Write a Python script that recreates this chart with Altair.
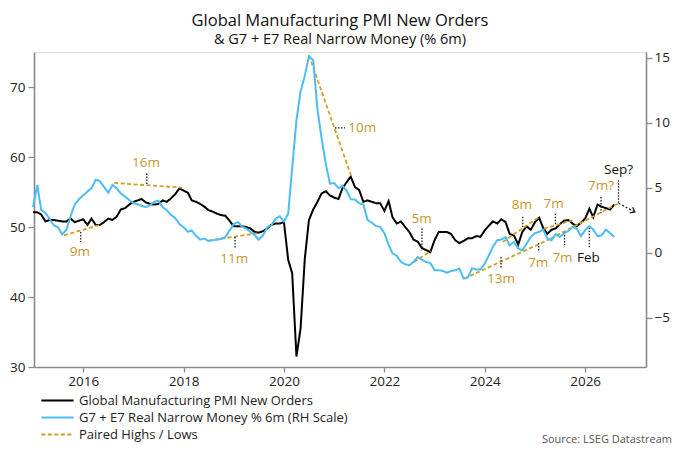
import altair as alt
import pandas as pd

TITLE = "Global Manufacturing PMI New Orders"
SUBTITLE = "& G7 + E7 Real Narrow Money (% 6m)"
SOURCE = "Source: LSEG Datastream"
SERIES = [
    "Global Manufacturing PMI New Orders",
    "G7 + E7 Real Narrow Money % 6m (RH Scale)",
    "Paired Highs / Lows",
]
FIRST_MONTH = "2015-01-01"

# Monthly values, Jan 2015 onwards
pmi_new_orders = [
    52.1, 52.1, 51.8, 50.8, 51.0, 51.0, 50.9, 50.8, 50.8, 51.2,
    50.7, 50.9, 51.1, 50.3, 51.2, 50.3, 50.3, 50.7, 51.2, 51.0,
    51.5, 52.5, 52.7, 53.2, 53.6, 53.8, 54.0, 53.5, 53.3, 53.2,
    53.3, 53.8, 53.6, 54.1, 54.7, 55.5, 55.2, 54.9, 53.8, 53.6,
    53.3, 52.9, 52.4, 52.2, 51.9, 51.7, 51.6, 50.9, 50.1, 50.1,
    50.1, 50.0, 49.8, 49.3, 49.2, 49.4, 49.8, 50.3, 50.5, 50.5,
    50.7, 45.3, 43.4, 31.5, 35.5, 45.5, 51.0, 52.5, 53.6, 54.8,
    55.1, 54.5, 54.2, 54.0, 55.5, 56.4, 57.2, 55.7, 55.3, 53.6,
    53.8, 53.6, 53.4, 53.4, 52.3, 53.7, 51.4, 50.5, 50.8, 50.0,
    49.3, 48.2, 47.9, 47.0, 46.7, 46.4, 48.1, 49.3, 49.3, 49.3,
    49.0, 48.1, 47.7, 48.0, 48.4, 48.4, 48.7, 48.6, 49.5, 50.2,
    50.8, 50.5, 51.1, 50.7, 49.0, 48.8, 47.5, 49.3, 50.1, 49.6,
    50.7, 51.3, 49.9, 49.0, 49.6, 49.8, 50.4, 50.9, 51.0, 50.5,
    50.1, 50.6, 51.2, 52.6, 51.4, 53.2, 52.9, 52.7, 52.5, 53.2,
]
real_money_6m = [
    3.5, 5.2, 3.3, 3.05, 2.6, 2.1, 1.95, 1.4, 1.75, 2.8,
    3.7, 4.1, 4.4, 4.7, 4.95, 5.6, 5.5, 5.05, 4.6, 5.2,
    4.95, 4.55, 4.3, 4.05, 3.8, 3.72, 3.6, 3.5, 3.65, 3.9,
    4.0, 3.5, 3.25, 2.9, 2.65, 2.2, 1.95, 1.6, 1.7, 1.3,
    1.0, 1.08, 0.9, 0.95, 1.0, 1.05, 1.2, 1.7, 2.2, 2.35,
    2.0, 1.85, 1.6, 1.35, 1.0, 1.3, 1.95, 2.1, 2.6, 2.8,
    2.4, 3.0, 6.5, 10.2, 12.4, 13.6, 15.1, 14.8, 11.0, 8.8,
    6.8, 5.3, 5.35, 4.95, 5.15, 4.75, 4.1, 4.08, 3.8, 3.7,
    2.5, 2.3, 2.05, 1.97, 1.5, 0.6, -0.05, -0.25, -0.7, -0.9,
    -0.97, -0.72, -0.35, -0.54, -0.72, -0.8, -1.35, -1.36, -1.4, -1.55,
    -1.42, -1.36, -1.23, -2.0, -1.92, -1.2, -1.3, -1.3, -0.85, -0.2,
    0.45, 0.95, 1.0, 1.2, 0.56, 0.82, 0.31, 0.18, 0.69, 1.2,
    1.5, 1.6, 1.77, 1.08, 0.95, 1.41, 1.21, 1.46, 1.67, 1.97,
    1.85, 1.26, 1.72, 2.03, 1.77, 1.26, 1.33, 1.77, 1.51, 1.21,
]

LEFT_TICKS = [30, 40, 50, 60, 70]
RIGHT_TICKS = [-5, 0, 5, 10, 15]
YEAR_TICKS = [2016, 2018, 2020, 2022, 2024, 2026]
LEFT_DOMAIN = [30, 75]
RIGHT_DOMAIN = [-8.8, 15.43]
X_DOMAIN = ["2015-01-08", "2027-03-20"]

# Paired highs / lows (months after Jan 2015, values on the left scale)
pair_start_month = [7.4, 19.4, 41.9, 66.0, 91.1, 103.1, 123.8, 112.3, 122.2]
pair_start_value = [48.81, 56.29, 48.05, 74.5, 45.0, 42.63, 48.34, 47.86, 49.77]
pair_end_month = [16.2, 35.6, 53.6, 76.1, 95.1, 123.8, 140.0, 121.0, 129.0]
pair_end_value = [50.34, 55.63, 49.1, 57.24, 46.57, 48.34, 53.39, 51.43, 50.96]

# dotted lag markers
marker_month = [11.4, 27.2, 48.3, 93.0, 111.9, 117.1, 124.9, 120.9, 127.1, 133.0, 135.8, 140.0]
marker_top = [49.29, 57.63, 48.57, 49.77, 45.71, 51.46, 51.91, 47.7, 49.3, 49.9, 54.3, 56.67]
marker_bottom = [47.86, 55.96, 46.91, 46.67, 44.06, 49.83, 50.24, 46.4, 47.39, 46.9, 52.0, 53.39]

lag_labels = ["9m", "16m", "11m", "10m", "5m", "13m", "8m", "7m", "7m", "7m", "7m?"]
lag_label_month = [11.2, 27.0, 48.1, 78.7, 92.9, 111.9, 116.9, 124.5, 120.8, 126.6, 135.8]
lag_label_value = [46.43, 59.14, 45.39, 64.17, 51.1, 42.53, 53.1, 53.34, 44.86, 45.6, 55.86]

date_labels = ["Feb", "Sep?"]
date_label_month = [132.8, 140.0]
date_label_value = [45.6, 58.1]

lead_10m_month = [72.2, 74.6]
lead_10m_value = 64.17
arrow_month = [140.0, 143.9]
arrow_value = [53.39, 52.14]

BLACK = "#000000"
BLUE = "#4BBDF4"
GOLD = "#D39D22"
GOLD_TEXT = "#C8962C"
FONT = "Open Sans"


def to_date(m):
    return pd.Timestamp(FIRST_MONTH) + pd.to_timedelta(m * 30.436875, unit="D")


dates = pd.date_range(FIRST_MONTH, periods=len(pmi_new_orders), freq="MS")
df_pmi = pd.DataFrame({"date": dates, "value": pmi_new_orders, "series": SERIES[0]})
df_money = pd.DataFrame({"date": dates, "value": real_money_6m, "series": SERIES[1]})

pair_rows = []
for i in range(len(pair_start_month)):
    pair_rows.append({"seg": i, "date": to_date(pair_start_month[i]), "value": pair_start_value[i], "series": SERIES[2]})
    pair_rows.append({"seg": i, "date": to_date(pair_end_month[i]), "value": pair_end_value[i], "series": SERIES[2]})
df_pairs = pd.DataFrame(pair_rows)

df_markers = pd.DataFrame({
    "date": [to_date(m) for m in marker_month],
    "value": marker_top,
    "value2": marker_bottom,
})
df_lead = pd.DataFrame({
    "date": [to_date(lead_10m_month[0])],
    "date2": [to_date(lead_10m_month[1])],
    "value": [lead_10m_value],
})
df_lag_text = pd.DataFrame({
    "date": [to_date(m) for m in lag_label_month],
    "value": lag_label_value,
    "label": lag_labels,
})
df_date_text = pd.DataFrame({
    "date": [to_date(m) for m in date_label_month],
    "value": date_label_value,
    "label": date_labels,
})
df_arrow = pd.DataFrame({"date": [to_date(m) for m in arrow_month], "value": arrow_value})
df_arrow_head = df_arrow.iloc[[1]]
df_source = pd.DataFrame({"label": [SOURCE]})

axis_common = dict(
    grid=False, title=None, domainColor="#8a8a8a", domainWidth=1.6, tickColor="#8a8a8a",
    tickWidth=1.3, labelFont=FONT, labelFontSize=13.5, labelColor="#222222",
)
x_enc = alt.X(
    "date:T",
    scale=alt.Scale(domain=X_DOMAIN, nice=False),
    axis=alt.Axis(values=[alt.DateTime(year=y, month=1, date=1) for y in YEAR_TICKS],
                  format="%Y", tickSize=5, labelPadding=2, **axis_common),
)
y_left = alt.Y(
    "value:Q",
    scale=alt.Scale(domain=LEFT_DOMAIN, nice=False, zero=False),
    axis=alt.Axis(values=LEFT_TICKS, orient="left", tickSize=6, labelPadding=3, **axis_common),
)
y_right = alt.Y(
    "value:Q",
    scale=alt.Scale(domain=RIGHT_DOMAIN, nice=False, zero=False),
    axis=alt.Axis(values=RIGHT_TICKS, orient="right", tickSize=6, labelPadding=2, **axis_common),
)

legend = alt.Legend(
    title=None, orient="none", legendX=15, legendY=340, direction="vertical",
    symbolType="M-2.15,0H2.15", symbolSize=225, symbolStrokeWidth=2,
    labelFont=FONT, labelFontSize=13, labelColor="#222222", rowPadding=1,
    labelOffset=13, padding=0, labelLimit=500,
)
color_enc = alt.Color("series:N", scale=alt.Scale(domain=SERIES, range=[BLACK, BLUE, GOLD]), legend=legend)
dash_enc = alt.StrokeDash("series:N", scale=alt.Scale(domain=SERIES, range=[[1, 0], [1, 0], [4, 2.5]]), legend=legend)

pmi_line = alt.Chart(df_pmi).mark_line(strokeWidth=2).encode(
    x=x_enc, y=y_left, color=color_enc, strokeDash=dash_enc)

pairs = alt.Chart(df_pairs).mark_line(strokeWidth=1.8).encode(
    x=x_enc, y=y_left, detail="seg:N", color=color_enc, strokeDash=dash_enc)

markers = alt.Chart(df_markers).mark_rule(color="#222222", strokeWidth=1.3, strokeDash=[1.5, 1.5]).encode(
    x=x_enc, y=y_left, y2="value2:Q")

lead = alt.Chart(df_lead).mark_rule(color="#222222", strokeWidth=1.3, strokeDash=[1.5, 1.5]).encode(
    x=x_enc, x2="date2:T", y=y_left)

lag_text = alt.Chart(df_lag_text).mark_text(
    font=FONT, fontSize=13.5, color=GOLD_TEXT, align="center", baseline="middle").encode(
    x=x_enc, y=y_left, text="label:N")

date_text = alt.Chart(df_date_text).mark_text(
    font=FONT, fontSize=13.5, color="#111111", align="center", baseline="middle").encode(
    x=x_enc, y=y_left, text="label:N")

arrow_line = alt.Chart(df_arrow).mark_line(color="#222222", strokeWidth=1.3, strokeDash=[2, 2]).encode(
    x=x_enc, y=y_left)

arrow_head = alt.Chart(df_arrow_head).mark_point(
    shape="M-1,-0.75L0,0L-1,0.75", filled=False, color="#222222", strokeWidth=1.3, size=70, angle=28,
    opacity=1).encode(x=x_enc, y=y_left)

source = alt.Chart(df_source).mark_text(
    font=FONT, fontSize=11, color="#555555", align="right", baseline="middle").encode(
    text="label:N", x=alt.value(638), y=alt.value(388))

left_group = alt.layer(pmi_line, pairs, markers, lead, lag_text, date_text, arrow_line, arrow_head, source)

money_line = alt.Chart(df_money).mark_line(strokeWidth=2).encode(
    x=x_enc, y=y_right, color=color_enc, strokeDash=dash_enc)

chart = alt.layer(left_group, money_line).resolve_scale(y="independent").properties(
    width=612,
    height=315,
    padding={"left": 26, "top": 44, "right": 26, "bottom": 79},
    autosize=alt.AutoSizeParams(type="none"),
    title=alt.TitleParams(
        text=TITLE, subtitle=SUBTITLE, anchor="middle", font=FONT, subtitleFont=FONT,
        fontSize=16.5, subtitleFontSize=14.5, fontWeight="normal", color="#111111",
        subtitleColor="#111111", offset=4, subtitlePadding=4,
    ),
).configure_view(stroke=None).configure(background="white")

chart.save("out.html", embed_options={"renderer": "svg", "actions": False})
